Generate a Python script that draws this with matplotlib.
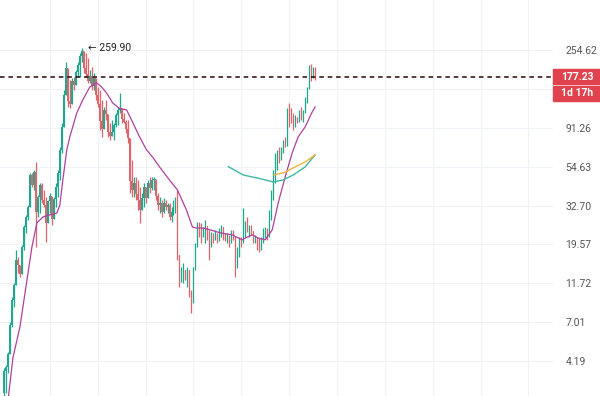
import numpy as np
import matplotlib
matplotlib.use("Agg")
import matplotlib.pyplot as plt
from matplotlib.patches import Rectangle
from matplotlib.ticker import NullLocator

plt.rcParams["font.family"] = ["Roboto", "DejaVu Sans"]

# daily candles (close / high / low), open = previous close
closes = [3.7, 3.9, 4.6, 6.8, 9.4, 11.4, 16.0, 14.9, 13.2, 19.0,
          24.6, 28.1, 32.1, 48.9, 43.0, 51.0, 30.0, 36.6, 42.9, 35.2,
          33.0, 26.0, 34.5, 37.0, 27.5, 35.5, 42.0, 50.5, 68.0, 92.0,
          140, 200, 130, 125, 168, 160, 190, 210, 235, 250,
          200, 185, 170, 180, 158, 175, 140, 125, 100, 90,
          115, 110, 86, 82, 86, 95, 108, 115, 118, 102,
          99, 90, 80, 45, 40, 44, 38, 35, 31, 36,
          42, 36, 44, 41, 46, 46.5, 37, 33, 34, 30,
          34, 32, 33, 28, 30, 34, 35, 17.0, 12.0, 13.5,
          14.0, 12.6, 14.0, 10.2, 9.0, 14.0, 19.5, 25.5, 24, 22,
          23, 25, 22, 21, 22, 21, 21.5, 20.5, 23.5, 24.5,
          22, 21, 22, 20, 23, 22, 14.5, 18, 21, 20,
          25, 26, 23.5, 24.5, 23.5, 21, 21.5, 19, 18.5, 21,
          23.5, 24, 21.5, 30, 39, 50, 62, 64, 60, 68,
          76, 72, 115, 110, 100, 92, 104, 100, 112, 104,
          113, 134, 152, 205, 180, 190, 177.23]

highs = [3.84, 3.99, 4.74, 7.03, 9.78, 11.8, 18.2, 16.6, 14.9, 19.5,
         25.3, 28.9, 32.9, 50.2, 50.2, 52.3, 58.0, 37.6, 44.0, 44.0,
         40.1, 36.6, 35.2, 38.6, 32.9, 36.6, 44.0, 52.3, 70.8, 97.2,
         150, 217, 176, 171, 176, 178, 196, 217, 245, 259.9,
         250, 245, 228, 196, 203, 188, 165, 156, 150, 131.6,
         120, 131.6, 105, 97, 101, 97, 111, 120, 144, 118,
         111, 101, 101, 77.7, 59.6, 47.7, 47.7, 45.8, 41.8, 38.6,
         44, 41.8, 45.8, 47.7, 47.7, 47.7, 44, 38.6, 36.6, 35.2,
         36, 35.2, 33.8, 33.8, 32.1, 35.2, 36.6, 40.1, 15.3, 14.5,
         15.3, 14, 14.5, 11.8, 10.7, 14.5, 19.9, 26.3, 26.3, 26,
         24.6, 27, 24.6, 23.7, 23, 22.8, 23.7, 22.8, 24.3, 25.3,
         23.7, 22.8, 22.8, 22.2, 23.7, 23.7, 20.8, 18.9, 21.6, 21.6,
         31.5, 26.5, 28.1, 25.3, 25.3, 22.8, 22.2, 21.6, 21.2, 21.6,
         24.3, 24.6, 24.3, 30.8, 40.1, 52.3, 65.4, 68.1, 70.8, 70.8,
         77.7, 80.8, 119, 126.5, 119, 111, 108, 105, 115.4, 120,
         115.4, 137, 156, 209, 212, 203.5, 203.5]

lows = [2.65, 2.77, 3.59, 5.07, 6.58, 8.57, 12.2, 13.4, 12.7, 13.4,
        18.2, 22.8, 27.0, 36.6, 41.8, 40.1, 18.9, 28.1, 29.6, 33.8,
        32.1, 20.2, 27.0, 29.6, 25.3, 28.9, 32.1, 36.6, 45.8, 65.4,
        97.2, 144, 120, 118, 137, 150, 165, 178, 178, 217,
        188, 178, 165, 165, 150, 150, 132, 120, 88.6, 80.8,
        101, 101, 80.8, 77.7, 83, 77.7, 92, 95, 111, 97,
        97, 85, 74.6, 38.6, 36.6, 36.6, 35.2, 30.8, 26.0, 32.1,
        32.1, 33.8, 36.6, 38.6, 40.1, 40.1, 35.2, 30.8, 29.6, 28.1,
        29.6, 30.8, 29.6, 27.0, 26.3, 28.9, 29.6, 15.9, 11.2, 12.2,
        11.8, 12.2, 11.2, 9.78, 7.97, 9.78, 14.0, 18.9, 21.6, 19.9,
        21.6, 19.9, 20.8, 15.9, 18.9, 19.9, 20.8, 19.9, 20.8, 21.6,
        20.8, 20.4, 19.9, 18.9, 20.8, 20.8, 12.7, 14.3, 16.6, 18.9,
        20.8, 21.6, 23.0, 21.6, 22.2, 19.9, 19.9, 18.2, 17.8, 18.2,
        19.9, 21.2, 20.8, 21.6, 27.0, 35.2, 44.0, 52.3, 57.3, 59.6,
        65.4, 70.8, 74.6, 92.2, 97.2, 88.6, 92.2, 97.2, 99, 101,
        99, 110.9, 126.5, 165, 168, 176, 171.4]

first_open = 2.75

# moving averages (candle index, value)
ma_x = [2, 4.5, 8, 11.5, 14, 16.5, 19.5, 23, 26.5, 28, 29.5, 31.5, 33, 36.5,
        39.5, 43, 46.5, 49, 51.5, 54.5, 58, 61.5, 64.5, 68, 71.5, 74.5, 78,
        83, 87, 91.5, 94.5, 96.5, 100, 103.5, 108.5, 114.5, 117.5, 119.5,
        121, 124.5, 127.5, 131, 134.5, 137.5, 141, 144.5, 147.5, 151,
        154.5, 156]
ma_y = [2.5, 4.4, 6.6, 12.2, 18.9, 26.0, 28.1, 28.9, 29.6, 32.9, 45.8, 68.1,
        80.8, 110.9, 131.6, 156, 165, 156, 144, 126.5, 117.5, 115.4, 98,
        80.8, 68.1, 62.0, 54.4, 45.8, 40.1, 30.8, 24.6, 24.3, 24.3, 23.7,
        22.8, 22.2, 21.3, 20.8, 21.3, 22.2, 21.3, 20.8, 23.7, 33.8, 47.7,
        65.4, 80.8, 92.2, 112, 120]

teal_x = [112.5, 120, 128.5, 135, 140, 145, 151, 156]
teal_y = [54.6, 48.9, 46.6, 44.6, 45.8, 48.9, 54.4, 63.7]

orange_x = [135.5, 141, 146, 151, 156]
orange_y = [48.9, 50.8, 54.4, 58.1, 63.7]

y_ticks = [4.19, 7.01, 11.72, 19.57, 32.70, 54.63, 91.26, 152.45, 254.62]
y_labels = ["4.19", "7.01", "11.72", "19.57", "32.70", "54.63", "91.26", "", "254.62"]
last_price = 177.23
peak_price = 259.90

closes = np.array(closes)
highs = np.array(highs)
lows = np.array(lows)
opens = np.concatenate([[first_open], closes[:-1]])
idx = np.arange(len(closes))

up = closes >= opens
colors = np.where(up, "#1fa88e", "#e2646b")
top = np.maximum(highs, np.maximum(opens, closes))
bot = np.minimum(lows, np.minimum(opens, closes))

fig = plt.figure(figsize=(6, 3.96), dpi=100)
ax = fig.add_axes([0, 0, 553 / 600, 1])
ax.set_yscale("log")
ax.set_ylim(2.65, 492)
ax.set_xlim(-2.0, 275.3)

ax.vlines(idx, bot, top, colors=colors, lw=0.9, zorder=3)
body_lo = np.minimum(opens, closes)
body_h = np.abs(closes - opens)
ax.bar(idx, body_h, bottom=body_lo, width=0.55, color=colors, lw=0, zorder=3)

ax.plot(ma_x, ma_y, color="#b0409f", lw=0.9, zorder=4)
ax.plot(teal_x, teal_y, color="#3fb8a4", lw=1.0, zorder=4)
ax.plot(orange_x, orange_y, color="#f0b43c", lw=1.0, zorder=4)

ax.axhline(last_price, color="#2a0808", lw=1.1, ls=(0, (3, 2.5)), zorder=5)
ax.text(42, peak_price, "\u2190 259.90", fontsize=7.5, va="center", ha="left",
        color="#222222")

ax.yaxis.tick_right()
ax.yaxis.set_minor_locator(NullLocator())
ax.set_yticks(y_ticks)
ax.set_yticklabels(y_labels)
ax.tick_params(axis="y", length=0, pad=9, labelsize=7.5, labelcolor="#555555")
ax.set_xticks([23, 47, 71, 95, 119, 143, 167, 191, 215, 239, 263])
ax.tick_params(axis="x", length=0, labelbottom=False)
ax.grid(True, color="#f0f3f6", lw=0.8, zorder=0)
for s in ax.spines.values():
    s.set_visible(False)

# price / countdown tags on the axis
for (y0, y1, label) in [(69, 84, "177.23"), (86, 101, "1d 17h")]:
    fig.patches.append(Rectangle((553 / 600, 1 - y1 / 396), 47 / 600, (y1 - y0) / 396,
                                 transform=fig.transFigure, color="#e0434d", zorder=10))
    fig.text(577 / 600, 1 - (y0 + y1) / 2 / 396, label, color="white", fontsize=7.5,
             fontweight="bold", ha="center", va="center", zorder=11)

fig.savefig("out.png", dpi=100, facecolor="white")
